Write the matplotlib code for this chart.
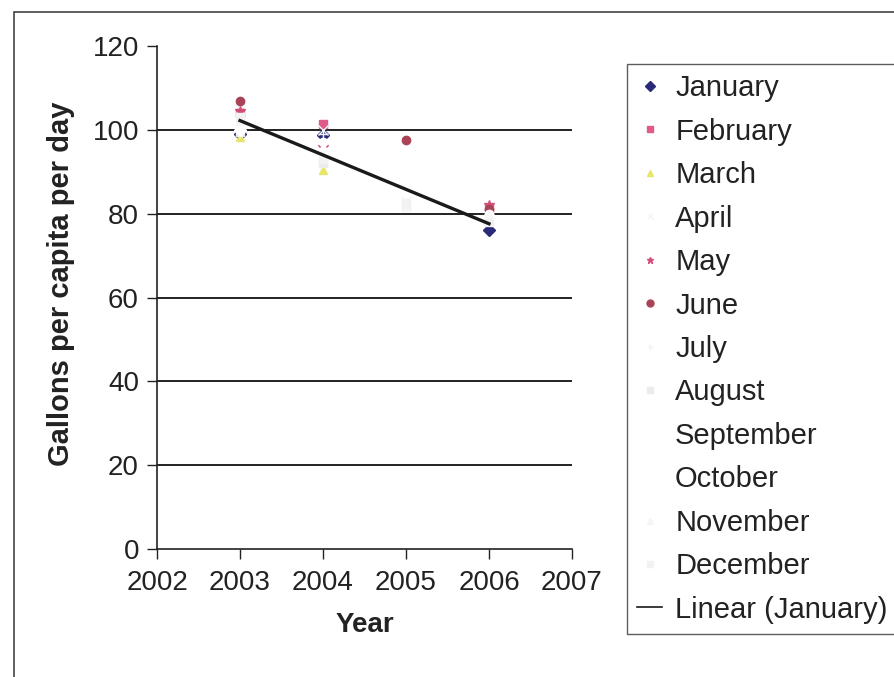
import numpy as np
import matplotlib
matplotlib.use("Agg")
import matplotlib.pyplot as plt
from matplotlib.patches import Rectangle
from matplotlib.lines import Line2D

plt.rcParams['font.family'] = ['Liberation Sans', 'DejaVu Sans']

years = [2003, 2004, 2005, 2006]
nan = np.nan

january   = [99.0, 98.8, nan, 76.0]
february  = [104.0, 101.4, nan, 81.4]
march     = [98.3, 90.5, nan, 80.0]
april     = [105.0, 100.0, 86.0, 80.5]
may       = [104.6, 96.0, nan, 82.0]
june      = [106.9, nan, 97.6, 81.0]
july      = [100.7, 99.0, 84.0, 79.0]
august    = [99.5, 92.0, 82.0, 78.5]
september = [101.0, 97.0, 83.0, 80.0]
october   = [100.0, 95.0, 85.0, 79.5]
november  = [102.0, 94.0, 81.5, 80.0]
december  = [103.0, 93.0, 82.5, 78.0]

month_names = ["January", "February", "March", "April", "May", "June", "July",
               "August", "September", "October", "November", "December"]
series = [january, february, march, april, may, june, july, august,
          september, october, november, december]
styles = [
    ("D", "#2a2a78"),
    ("s", "#e05a8a"),
    ("^", "#e8e66a"),
    ("x", "#f2f6fa"),
    ("*", "#d0507a"),
    ("o", "#a84455"),
    ("+", "#f2f2f2"),
    ("s", "#ececec"),
    ("o", "#ffffff"),
    ("D", "#ffffff"),
    ("^", "#f6f6f6"),
    ("s", "#f2f2f2"),
]

W, H = 894, 677
fig = plt.figure(figsize=(W / 100, H / 100), dpi=100)
fig.patch.set_facecolor("white")

ax = fig.add_axes([157 / W, 1 - 549 / H, (572 - 157) / W, (549 - 46) / H])
ax.set_xlim(2002, 2007)
ax.set_ylim(0, 120)

for y in [20, 40, 60, 80, 100]:
    ax.axhline(y, color="#111111", lw=1.3, zorder=1)

handles = []
for name, vals, (m, c) in zip(month_names, series, styles):
    ms = 6 if m not in ("*", "+", "x") else 7
    ax.plot(years, vals, linestyle="none", marker=m, color=c, markersize=ms,
            markeredgecolor=c, zorder=3)
    handles.append(Line2D([], [], linestyle="none", marker=m, color=c,
                          markersize=5, markeredgecolor=c))

# Linear trend of the January series
jx = np.array(years, dtype=float)
jy = np.array(january, dtype=float)
ok = ~np.isnan(jy)
slope, intercept = np.polyfit(jx[ok], jy[ok], 1)
tx = np.array([years[0], years[-1]], dtype=float)
ax.plot(tx, slope * tx + intercept, color="#1a1a1a", lw=2.4, zorder=4)
handles.append(Line2D([], [], color="#1a1a1a", lw=1.2))

for s in ["top", "right"]:
    ax.spines[s].set_visible(False)
for s in ["left", "bottom"]:
    ax.spines[s].set_color("#222222")
    ax.spines[s].set_linewidth(1.2)

ax.set_xticks([2002, 2003, 2004, 2005, 2006, 2007])
ax.set_yticks([0, 20, 40, 60, 80, 100, 120])
ax.tick_params(axis="both", direction="out", length=7, width=1.0,
               color="#222222", labelsize=20, labelcolor="#222222", pad=6)
ax.tick_params(axis="x", pad=8)

ax.set_xlabel("Year", fontsize=20, fontweight="bold", color="#222222", labelpad=12)
ax.set_ylabel("Gallons per capita per day", fontsize=21, fontweight="bold",
              color="#222222")
ax.yaxis.set_label_coords(-0.197, 0.528)

labels = month_names + ["Linear (January)"]
leg = fig.legend(handles, labels, loc="upper left",
                 bbox_to_anchor=(627 / W, 1 - 64 / H), fontsize=21,
                 frameon=True, fancybox=False, edgecolor="#333333",
                 labelspacing=0.53, handlelength=0.85, handletextpad=0.45,
                 borderpad=0.35, borderaxespad=0)
leg.get_frame().set_linewidth(1.0)
for t in leg.get_texts():
    t.set_color("#222222")

# Outer chart frame, cut off by the page edge at right and bottom
fig.patches.append(Rectangle((14 / W, -0.05), 1.2, 1 - 12 / H + 0.05,
                             transform=fig.transFigure, fill=False,
                             edgecolor="#444444", lw=1.2, clip_on=False))

fig.savefig("out.png", dpi=100)
